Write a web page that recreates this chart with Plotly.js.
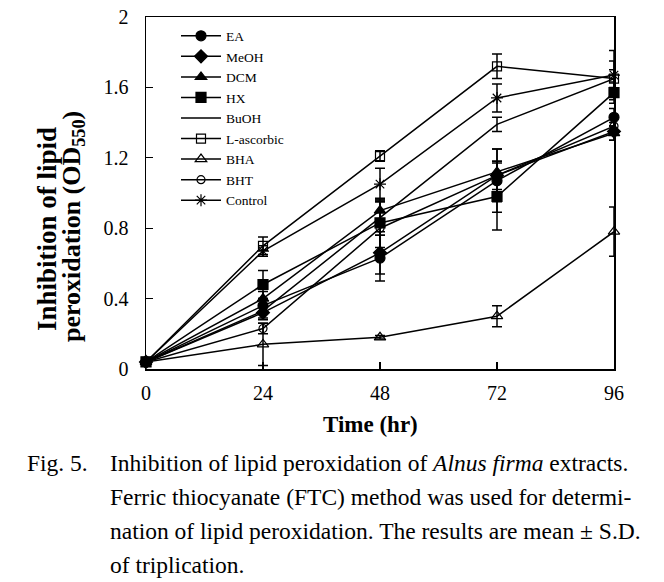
<!DOCTYPE html>
<html>
<head>
<meta charset="utf-8">
<script src="https://cdn.plot.ly/plotly-3.0.1.min.js"></script>
<style>html,body{margin:0;padding:0;background:#fff;}#chart{width:664px;height:582px;}</style>
</head>
<body>
<div id="chart"></div>
<script>
// Time points (hr)
const hours = [0, 24, 48, 72, 96];

// Series (OD550) and their S.D.
const seriesNames = ["EA", "MeOH", "DCM", "HX", "BuOH", "L-ascorbic", "BHA", "BHT", "Control"];
const EA        = [0.04, 0.36, 0.63, 1.07, 1.43];
const EA_sd     = [0.01, 0.04, 0.13, 0.18, 0.05];
const MeOH      = [0.04, 0.32, 0.66, 1.10, 1.35];
const MeOH_sd   = [0.01, 0.04, 0.12, 0.08, 0.05];
const DCM       = [0.04, 0.40, 0.90, 1.12, 1.34];
const DCM_sd    = [0.01, 0.04, 0.05, 0.06, 0.04];
const HX        = [0.04, 0.48, 0.83, 0.98, 1.57];
const HX_sd     = [0.01, 0.08, 0.14, 0.19, 0.06];
const BuOH      = [0.04, 0.33, 0.86, 1.39, 1.65];
const BuOH_sd   = [0.01, 0.04, 0.10, 0.04, 0.05];
const Lasc      = [0.04, 0.70, 1.21, 1.72, 1.65];
const Lasc_sd   = [0.01, 0.05, 0.03, 0.07, 0.10];
const BHA       = [0.04, 0.14, 0.18, 0.30, 0.78];
const BHA_sd    = [0.01, 0.12, 0.01, 0.06, 0.14];
const BHT       = [0.04, 0.23, 0.80, 1.10, 1.38];
const BHT_sd    = [0.01, 0.03, 0.15, 0.15, 0.05];
const Control   = [0.04, 0.67, 1.05, 1.54, 1.67];
const Control_sd= [0.01, 0.03, 0.09, 0.08, 0.14];

const values = [EA, MeOH, DCM, HX, BuOH, Lasc, BHA, BHT, Control];
const sds    = [EA_sd, MeOH_sd, DCM_sd, HX_sd, BuOH_sd, Lasc_sd, BHA_sd, BHT_sd, Control_sd];
const symbols = ["circle", "diamond", "triangle-up", "square", null, "square-open", "triangle-up-open", "circle-open", "asterisk-open"];
const sizes   = [10, 10, 10, 10, 0, 9, 10, 8, 10];

const serif = "Liberation Serif, Times New Roman, serif";

const traces = seriesNames.map((name, i) => {
  const t = {
    x: hours, y: values[i], name: name, type: "scatter",
    mode: symbols[i] ? "lines+markers" : "lines",
    line: {color: "#000", width: 1.5},
    cliponaxis: false,
    error_y: {type: "data", array: sds[i], visible: true, color: "#000", thickness: 1.5, width: 5}
  };
  if (symbols[i]) {
    t.marker = {symbol: symbols[i], size: sizes[i], color: "#000", line: {color: "#000", width: 1.2}};
  }
  return t;
});

// pixel helpers for annotation placement (plot area: x 146..614, y 17..369)
const px = x => (x - 146) / 468;
const py = y => (369 - y) / 352;

const capFont = {family: serif, size: 23.5, color: "#000"};

const layout = {
  width: 664, height: 582,
  margin: {l: 146, r: 50, t: 17, b: 213},
  paper_bgcolor: "#fff", plot_bgcolor: "#fff",
  showlegend: true,
  legend: {
    x: px(176), y: 0.99, xanchor: "left", yanchor: "top",
    bgcolor: "rgba(0,0,0,0)", borderwidth: 0,
    font: {family: serif, size: 13.5, color: "#000"},
    tracegroupgap: 0, itemwidth: 40
  },
  xaxis: {
    range: [0, 96], tickvals: hours, ticktext: hours.map(String),
    ticks: "inside", ticklen: 7, tickwidth: 1.2, tickcolor: "#000",
    showline: true, linecolor: "#000", linewidth: 1.5, mirror: true,
    showgrid: false, zeroline: false,
    tickfont: {family: serif, size: 20, color: "#000"},
    ticklabelstandoff: 5
  },
  yaxis: {
    range: [0, 2], dtick: 0.4, tick0: 0,
    ticks: "inside", ticklen: 7, tickwidth: 1.2, tickcolor: "#000",
    showline: true, linecolor: "#000", linewidth: 1.5, mirror: true,
    showgrid: false, zeroline: false,
    tickfont: {family: serif, size: 20, color: "#000"},
    ticklabelstandoff: 12
  },
  annotations: [
    {text: "<b>Time (hr)</b>", xref: "paper", yref: "paper", x: px(370), y: py(424),
     xanchor: "center", yanchor: "middle", showarrow: false,
     font: {family: serif, size: 23, color: "#000"}},
    {text: "<b>Inhibition of lipid</b>", xref: "paper", yref: "paper",
     x: px(47), y: py(229), xanchor: "center", yanchor: "middle",
     textangle: -90, showarrow: false, font: {family: serif, size: 27, color: "#000"}},
    {text: "<b>peroxidation (OD<sub>550</sub>)</b>", xref: "paper", yref: "paper",
     x: px(73), y: py(227), xanchor: "center", yanchor: "middle",
     textangle: -90, showarrow: false, font: {family: serif, size: 26, color: "#000"}},
    {text: "Fig. 5.", xref: "paper", yref: "paper", x: px(25), y: py(463),
     xanchor: "left", yanchor: "middle", showarrow: false, font: capFont},
    {text: "Inhibition of lipid peroxidation of <i>Alnus firma</i> extracts.", xref: "paper", yref: "paper",
     x: px(108), y: py(463), xanchor: "left", yanchor: "middle", showarrow: false, font: capFont},
    {text: "Ferric thiocyanate (FTC) method was used for determi-", xref: "paper", yref: "paper",
     x: px(108), y: py(497), xanchor: "left", yanchor: "middle", showarrow: false, font: capFont},
    {text: "nation of lipid peroxidation. The results are mean ± S.D.", xref: "paper", yref: "paper",
     x: px(108), y: py(531), xanchor: "left", yanchor: "middle", showarrow: false, font: capFont},
    {text: "of triplication.", xref: "paper", yref: "paper",
     x: px(108), y: py(565), xanchor: "left", yanchor: "middle", showarrow: false, font: capFont}
  ]
};

Plotly.newPlot("chart", traces, layout, {displayModeBar: false, staticPlot: true});
</script>
</body>
</html>
